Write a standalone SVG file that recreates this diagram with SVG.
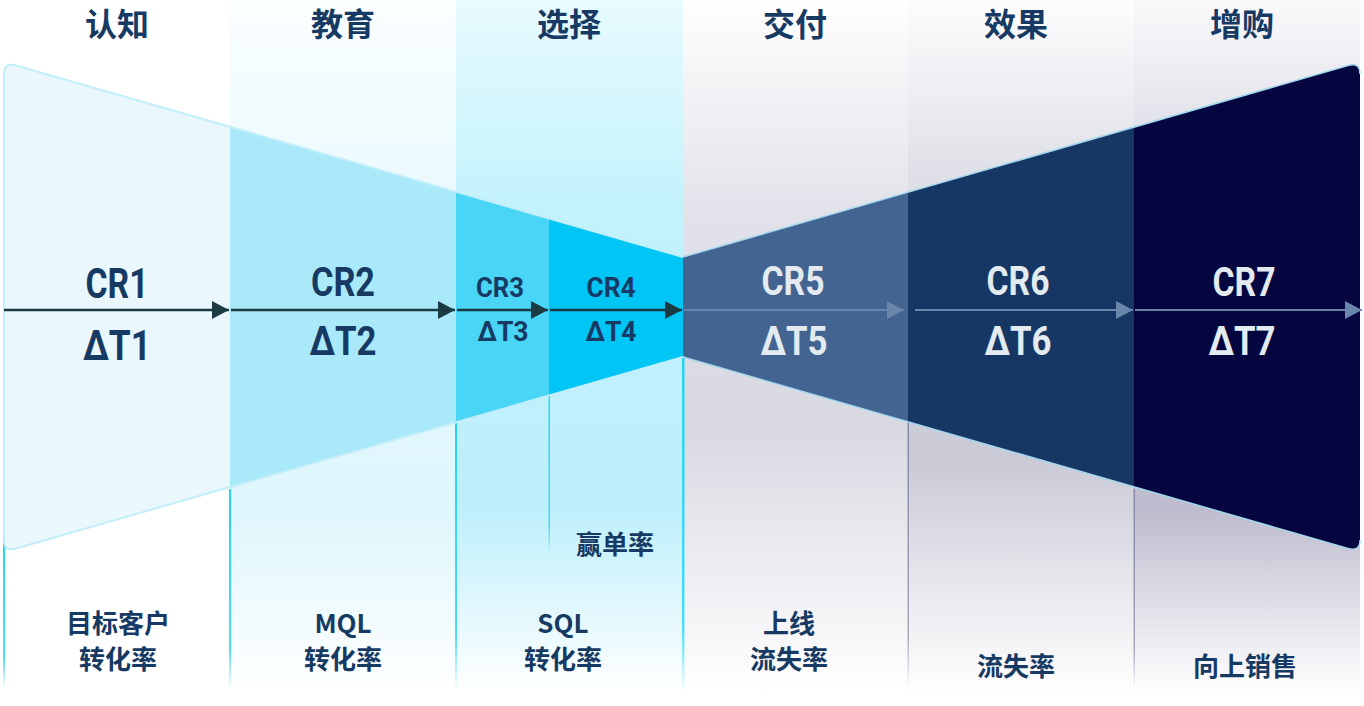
<svg xmlns="http://www.w3.org/2000/svg" width="1364" height="706" viewBox="0 0 1364 706">
<style>
.hd{font-family:"Noto Sans CJK SC","Noto Sans",sans-serif;font-size:32px;font-weight:700;fill:#163a64;text-anchor:middle}
.lb{font-family:"Noto Sans CJK SC","Noto Sans",sans-serif;font-size:26px;font-weight:700;fill:#163a64;text-anchor:middle}
.cr{font-family:Roboto,"Liberation Sans",sans-serif;font-weight:700;text-anchor:middle}
.dk{fill:#163a64}
.lt{fill:#e3ebf1}
.big{font-size:40px}
.sm{font-size:28px}
.arD{stroke:#1b3b42;stroke-width:2.5;fill:none}
.arL{stroke:#6a85aa;stroke-width:2;fill:none}
</style>
<defs>
<marker id="mD" markerUnits="userSpaceOnUse" markerWidth="18" markerHeight="19" refX="17" refY="9" orient="auto" viewBox="0 0 18 19">
<path d="M0,0 L17,9 L0,18 Z" fill="#1b3b42"/>
</marker>
<marker id="mL" markerUnits="userSpaceOnUse" markerWidth="18" markerHeight="19" refX="17" refY="9" orient="auto" viewBox="0 0 18 19">
<path d="M0,0 L17,9 L0,18 Z" fill="#6a85aa"/>
</marker>
<clipPath id="cL"><path d="M4,74 Q4,62 16,65.5 L683,257 L683,357 L16,548.5 Q4,552 4,540 Z"/></clipPath>
<clipPath id="cR"><path d="M683,257 L1348,65.5 Q1360,62 1360,74 L1360,540 Q1360,552 1348,548.5 L683,357 Z"/></clipPath>
<linearGradient id="g2" x1="0" y1="0" x2="0" y2="1">
<stop offset="0" stop-color="#fafeff"/><stop offset="0.3" stop-color="#e9f9fd"/><stop offset="0.72" stop-color="#def6fc"/><stop offset="0.98" stop-color="#ffffff"/>
</linearGradient>
<linearGradient id="g3" x1="0" y1="0" x2="0" y2="1">
<stop offset="0" stop-color="#e8fbfe"/><stop offset="0.3" stop-color="#c2f2fc"/><stop offset="0.72" stop-color="#bdeffb"/><stop offset="0.98" stop-color="#ffffff"/>
</linearGradient>
<linearGradient id="g4" x1="0" y1="0" x2="0" y2="1">
<stop offset="0" stop-color="#ffffff"/><stop offset="0.3" stop-color="#e2e2ea"/><stop offset="0.6" stop-color="#d8d8e2"/><stop offset="0.98" stop-color="#ffffff"/>
</linearGradient>
<linearGradient id="g5" x1="0" y1="0" x2="0" y2="1">
<stop offset="0" stop-color="#fdfdfe"/><stop offset="0.3" stop-color="#d9d9e3"/><stop offset="0.65" stop-color="#cacad7"/><stop offset="0.98" stop-color="#ffffff"/>
</linearGradient>
<linearGradient id="g6" x1="0" y1="0" x2="0" y2="1">
<stop offset="0" stop-color="#fafafc"/><stop offset="0.3" stop-color="#d2d1de"/><stop offset="0.72" stop-color="#bdbbcd"/><stop offset="0.98" stop-color="#ffffff"/>
</linearGradient>
<linearGradient id="vc" x1="0" y1="0" x2="0" y2="1">
<stop offset="0" stop-color="#22d6f2"/><stop offset="0.8" stop-color="#22d6f2" stop-opacity="0.8"/><stop offset="1" stop-color="#22d6f2" stop-opacity="0"/>
</linearGradient>
<linearGradient id="vg" x1="0" y1="0" x2="0" y2="1">
<stop offset="0" stop-color="#8a8aa6"/><stop offset="0.8" stop-color="#8a8aa6" stop-opacity="0.7"/><stop offset="1" stop-color="#8a8aa6" stop-opacity="0"/>
</linearGradient>
</defs>
<rect width="1364" height="706" fill="#ffffff"/>

<g id="stage-awareness">
<rect x="0" y="0" width="230" height="706" fill="#eaf8fd" clip-path="url(#cL)"/>
<rect x="3" y="538" width="2" height="150" fill="url(#vc)"/>
<text class="hd" x="117" y="36">认知</text>
<text class="cr dk" x="117" y="298" font-size="42" textLength="63" lengthAdjust="spacingAndGlyphs">CR1</text>
<text class="cr dk" x="117" y="360" font-size="42" textLength="68" lengthAdjust="spacingAndGlyphs">ΔT1</text>
<text class="lb" x="118" y="633">目标客户</text>
<text class="lb" x="118" y="669">转化率</text>
</g>

<g id="stage-education">
<rect x="230" y="0" width="226" height="706" fill="url(#g2)"/>
<rect x="230" y="0" width="226" height="706" fill="#a9e9f9" clip-path="url(#cL)"/>
<rect x="229" y="489" width="2" height="200" fill="url(#vc)"/>
<text class="hd" x="343" y="36">教育</text>
<text class="cr dk big" x="343" y="296" textLength="64" lengthAdjust="spacingAndGlyphs">CR2</text>
<text class="cr dk big" x="343" y="355" textLength="67" lengthAdjust="spacingAndGlyphs">ΔT2</text>
<text class="lb" x="343" y="633">MQL</text>
<text class="lb" x="343" y="669">转化率</text>
</g>

<g id="stage-selection">
<rect x="456" y="0" width="227" height="706" fill="url(#g3)"/>
<rect x="456" y="0" width="93" height="706" fill="#49d5f6" clip-path="url(#cL)"/>
<rect x="549" y="0" width="134" height="706" fill="#00c5f5" clip-path="url(#cL)"/>
<rect x="455" y="421" width="2" height="268" fill="url(#vc)"/>
<rect x="548.5" y="396" width="1.5" height="160" fill="url(#vc)"/>
<text class="hd" x="569" y="36">选择</text>
<text class="cr dk sm" x="500" y="297" textLength="48" lengthAdjust="spacingAndGlyphs">CR3</text>
<text class="cr dk sm" x="503" y="341" textLength="51" lengthAdjust="spacingAndGlyphs">ΔT3</text>
<text class="cr dk sm" x="611" y="297" textLength="49" lengthAdjust="spacingAndGlyphs">CR4</text>
<text class="cr dk sm" x="611" y="341" textLength="51" lengthAdjust="spacingAndGlyphs">ΔT4</text>
<text class="lb" x="615" y="554">赢单率</text>
<text class="lb" x="563" y="633">SQL</text>
<text class="lb" x="563" y="669">转化率</text>
</g>

<g id="stage-delivery">
<rect x="683" y="0" width="225" height="706" fill="url(#g4)"/>
<rect x="683" y="0" width="225" height="706" fill="#436491" clip-path="url(#cR)"/>
<rect x="682" y="356" width="2.5" height="336" fill="url(#vc)"/>
<text class="hd" x="795" y="36">交付</text>
<text class="cr lt big" x="793" y="295" textLength="63" lengthAdjust="spacingAndGlyphs">CR5</text>
<text class="cr lt big" x="794" y="355" textLength="67" lengthAdjust="spacingAndGlyphs">ΔT5</text>
<text class="lb" x="789" y="633">上线</text>
<text class="lb" x="789" y="669">流失率</text>
</g>

<g id="stage-effect">
<rect x="908" y="0" width="226" height="706" fill="url(#g5)"/>
<rect x="908" y="0" width="226" height="706" fill="#163664" clip-path="url(#cR)"/>
<rect x="907.5" y="422" width="1.5" height="267" fill="url(#vg)"/>
<text class="hd" x="1016" y="36">效果</text>
<text class="cr lt big" x="1018" y="295" textLength="63" lengthAdjust="spacingAndGlyphs">CR6</text>
<text class="cr lt big" x="1018" y="355" textLength="67" lengthAdjust="spacingAndGlyphs">ΔT6</text>
<text class="lb" x="1016" y="676">流失率</text>
</g>

<g id="stage-upsell">
<rect x="1134" y="0" width="226" height="706" fill="url(#g6)"/>
<rect x="1134" y="0" width="230" height="706" fill="#05053f" clip-path="url(#cR)"/>
<rect x="1133.5" y="489" width="1.5" height="200" fill="url(#vg)"/>
<text class="hd" x="1242" y="36">增购</text>
<text class="cr lt big" x="1244" y="296" textLength="63" lengthAdjust="spacingAndGlyphs">CR7</text>
<text class="cr lt big" x="1242" y="355" textLength="67" lengthAdjust="spacingAndGlyphs">ΔT7</text>
<text class="lb" x="1245" y="676">向上销售</text>
</g>

<g id="funnel-outline" fill="none">
<path d="M683,257 L16,65.5 Q4,62 4,74 L4,540 Q4,552 16,548.5 L683,357" stroke="#c2eefa" stroke-width="2"/>
<path d="M683,257 L1348,65.5 Q1360,62 1360,74 M1360,540 Q1360,552 1348,548.5 L683,357" stroke="#a3d8ee" stroke-width="1.5"/>
</g>

<g id="connectors">
<line class="arD" x1="4" y1="310" x2="229" y2="310" marker-end="url(#mD)"/>
<line class="arD" x1="231" y1="310" x2="455" y2="310" marker-end="url(#mD)"/>
<line class="arD" x1="457" y1="310" x2="548" y2="310" marker-end="url(#mD)"/>
<line class="arD" x1="550" y1="310" x2="682" y2="310" marker-end="url(#mD)"/>
<line class="arL" x1="684" y1="310" x2="904" y2="310" marker-end="url(#mL)"/>
<line class="arL" x1="915" y1="310" x2="1133" y2="310" marker-end="url(#mL)"/>
<line class="arL" x1="1135" y1="310" x2="1362" y2="310" marker-end="url(#mL)"/>
</g>
</svg>
